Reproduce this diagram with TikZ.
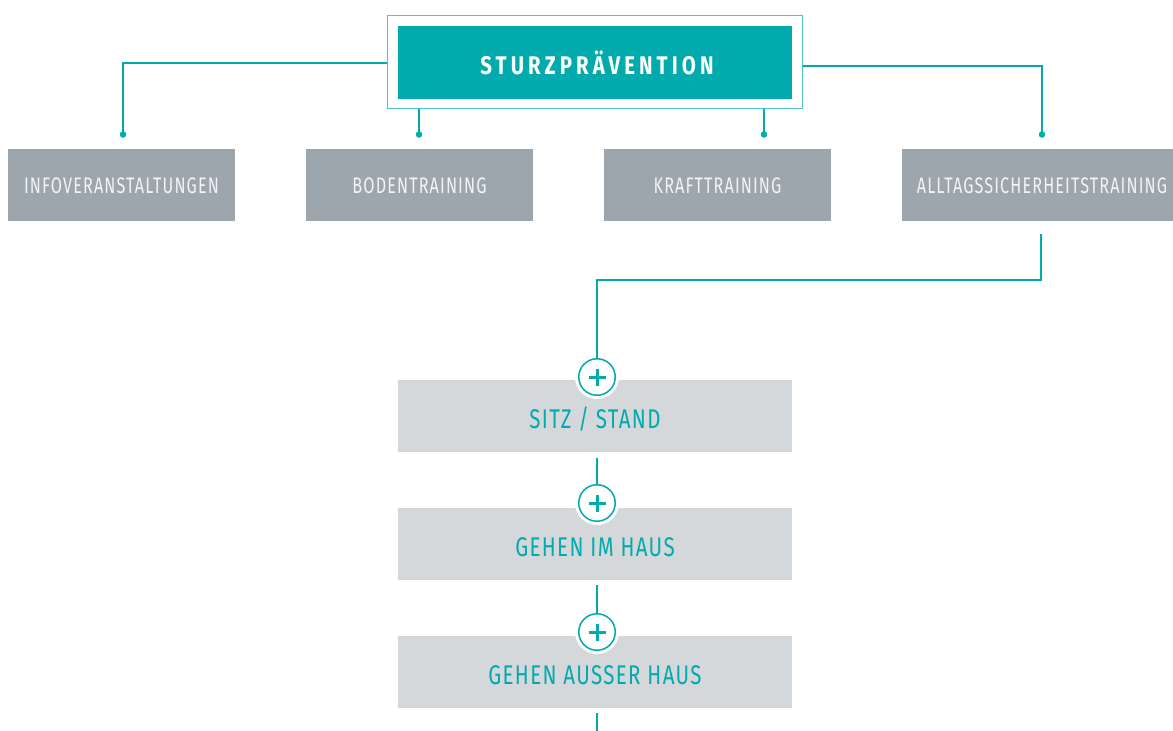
\documentclass[tikz,border=0pt]{standalone}
\usepackage{fontspec}
\usetikzlibrary{calc}
\setmainfont{Fira Sans}
\newfontfamily\grayfont{Fira Sans}[FakeStretch=0.72, LetterSpace=5]
\newfontfamily\tealfont{Fira Sans}[FakeStretch=0.76, LetterSpace=5]
\newfontfamily\titlefont{Fira Sans}[FakeStretch=0.8, LetterSpace=16]
\definecolor{teal1}{HTML}{00AAAD}
\definecolor{tealframe}{HTML}{4CC3C5}
\definecolor{grayA}{HTML}{9DA6AC}
\definecolor{grayB}{HTML}{D4D8DB}
\definecolor{graytext}{HTML}{F2F3F4}
\tikzset{
  conn/.style={draw=teal1, line width=1.4pt},
  dotnode/.style={circle, fill=teal1, inner sep=0pt, minimum size=6.5pt},
  graybox/.style={rectangle, fill=grayA, minimum width=227pt, minimum height=72pt, inner sep=0pt,
    text height=17.5pt, text depth=0pt,
    text=graytext, font=\grayfont\fontsize{22.5}{23}\selectfont},
  lightbox/.style={rectangle, fill=grayB, minimum width=394pt, minimum height=72pt, inner sep=0pt,
    text height=24.6pt, text depth=0pt,
    text=teal1, font=\tealfont\fontsize{27}{27}\selectfont},
  plusring/.style={circle, fill=white, minimum size=44pt, inner sep=0pt},
  pluscircle/.style={circle, draw=teal1, line width=1.5pt, fill=white, minimum size=36.5pt, inner sep=0pt},
  plusbar/.style={draw=teal1, line width=3pt},
}
\begin{document}
\begin{tikzpicture}[x=1pt, y=-1pt]
\useasboundingbox (0,0) rectangle (1173,731);
\clip (0,0) rectangle (1173,731);
% title
\node[rectangle, draw=tealframe, line width=1.5pt, minimum width=415pt, minimum height=93pt, inner sep=0pt] (outer) at (595,62) {};
\node[rectangle, fill=teal1, minimum width=394pt, minimum height=73pt, inner sep=0pt, text=white,
  font=\titlefont\bfseries\fontsize{25.5}{26}\selectfont] (title) at (595,62.5) {STURZPRÄVENTION\kern-4pt};
% gray boxes
\node[graybox] (b1) at (121.5,185) {INFOVERANSTALTUNGEN};
\node[graybox] (b2) at (419.5,185) {BODENTRAINING};
\node[graybox] (b3) at (717.5,185) {KRAFTTRAINING};
\node[graybox, minimum width=280pt] (b4) at (1042,185) {ALLTAGSSICHERHEITSTRAINING};
% dots
\node[dotnode] (d1) at (123,134.5) {};
\node[dotnode] (d2) at (419,134.5) {};
\node[dotnode] (d3) at (764,134.5) {};
\node[dotnode] (d4) at (1042,134.5) {};
\coordinate (lft) at (outer.west |- 0,63);
\coordinate (rgt) at (outer.east |- 0,66);
\draw[conn] (lft) -| (d1.center);
\draw[conn] (rgt) -| (d4.center);
\draw[conn] (outer.south -| d2) -- (d2.center);
\draw[conn] (outer.south -| d3) -- (d3.center);
% light boxes
\node[lightbox] (s1) at (595,416) {SITZ / STAND};
\node[lightbox] (s2) at (595,544) {GEHEN IM HAUS};
\node[lightbox] (s3) at (595,672) {GEHEN AUSSER HAUS};
% plus circles
\foreach \n/\y in {p1/377, p2/503, p3/632}{
  \node[plusring] at (597,\y) {};
  \node[pluscircle] (\n) at (597,\y) {};
  \draw[plusbar] ([xshift=-8.5pt]\n.center) -- ([xshift=8.5pt]\n.center);
  \draw[plusbar] ([yshift=-8.5pt]\n.center) -- ([yshift=8.5pt]\n.center);
}
% lower connectors
\coordinate (start) at (1041,234);
\coordinate (bend) at (1041,280);
\coordinate (endc) at (597,731);
\draw[conn] (start) -- (bend) -| (p1.north);
\draw[conn] ([yshift=-6pt]s1.south -| p2) -- (p2.north);
\draw[conn] ([yshift=-5pt]s2.south -| p3) -- (p3.north);
\draw[conn] ([yshift=-5pt]s3.south -| endc) -- (endc);
\end{tikzpicture}
\end{document}
